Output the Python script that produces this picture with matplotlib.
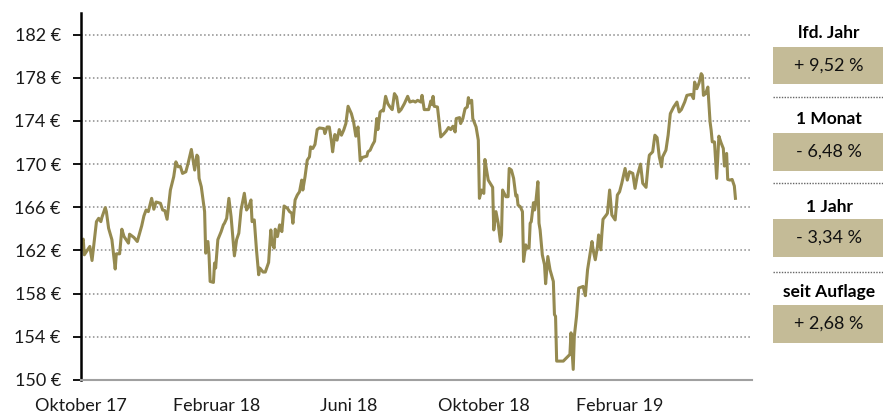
import matplotlib
matplotlib.use("Agg")
import matplotlib.pyplot as plt
import pandas as pd

plt.rcParams['font.family'] = ['Lato', 'DejaVu Sans']

start_date = "2017-10-01"
end_date = "2019-06-01"

# day offsets from start_date and prices (EUR)
day_offsets = [
    0, 2, 3, 6, 8, 10, 14, 16, 18, 19, 22, 23, 25, 28, 31, 32, 35, 37, 39, 43,
    44, 48, 51, 55, 57, 59, 61, 64, 66, 68, 72, 74, 76, 78, 81, 84, 86, 88, 90, 92,
    95, 97, 100, 103, 105, 106, 107, 109, 112, 113, 115, 116, 117, 120, 121, 122, 124, 127, 129, 130,
    132, 134, 136, 139, 141, 143, 145, 148, 150, 152, 154, 155, 157, 159, 161, 162, 165, 167, 170, 172,
    173, 175, 176, 178, 180, 182, 184, 187, 189, 191, 192, 194, 196, 198, 200, 201, 203, 205, 207, 208,
    210, 212, 214, 216, 220, 221, 223, 225, 227, 228, 230, 232, 234, 236, 238, 240, 242, 245, 247, 249,
    251, 253, 255, 259, 260, 262, 264, 266, 268, 269, 271, 273, 274, 276, 278, 280, 282, 284, 286, 288,
    290, 293, 296, 298, 301, 303, 305, 308, 309, 311, 315, 317, 318, 319, 320, 323, 324, 326, 329, 331,
    333, 335, 337, 339, 340, 343, 344, 346, 348, 350, 351, 352, 354, 355, 358, 360, 361, 363, 365, 366,
    367, 369, 373, 374, 376, 378, 380, 381, 382, 385, 387, 388, 390, 392, 394, 395, 396, 398, 400, 401,
    403, 404, 406, 407, 408, 410, 411, 412, 414, 415, 416, 418, 420, 421, 423, 425, 428, 429, 430, 431,
    434, 437, 440, 443, 444, 446, 447, 449, 451, 455, 457, 459, 463, 464, 466, 468, 469, 471, 472, 473,
    476, 477, 479, 481, 484, 486, 488, 490, 491, 493, 495, 497, 500, 502, 504, 507, 509, 512, 514, 515,
    518, 520, 522, 524, 526, 527, 530, 532, 534, 537, 540, 542, 544, 547, 549, 553, 555, 556, 558, 560,
    562, 563, 564, 566, 568, 570, 571, 572, 574, 576, 577, 578, 580, 582, 583, 585, 586, 588, 590, 592,
    593,
]
prices = [
    162.68, 163.05, 161.60, 162.06, 162.37, 161.07, 164.67, 164.98, 164.67, 165.08, 165.97, 165.60, 164.06, 163.00, 160.28, 161.69, 161.69, 163.97, 163.29, 162.68,
    163.51, 163.20, 162.83, 164.28, 165.20, 165.75, 165.60, 166.83, 165.82, 166.49, 166.37, 165.75, 165.69, 164.89, 167.60, 168.83, 170.21, 169.75, 169.80, 169.14,
    169.29, 170.06, 171.36, 169.45, 170.83, 170.67, 168.68, 167.90, 165.60, 161.75, 162.83, 161.60, 159.13, 159.04, 160.83, 160.37, 163.00, 163.75, 164.37, 164.52,
    164.98, 166.83, 165.13, 161.50, 163.00, 163.60, 165.75, 167.30, 165.75, 166.06, 166.68, 164.67, 164.83, 162.06, 159.75, 160.37, 160.00, 160.00, 160.89, 163.90,
    162.68, 162.22, 163.97, 163.29, 164.37, 163.75, 166.12, 165.91, 165.60, 165.45, 164.52, 166.68, 167.14, 167.44, 168.52, 167.60, 168.83, 170.37, 170.67, 171.60,
    171.45, 171.82, 173.20, 173.35, 173.29, 172.83, 173.44, 173.44, 172.06, 171.14, 172.74, 172.22, 173.20, 172.68, 173.14, 173.76, 175.36, 174.68, 173.91, 172.59,
    173.44, 170.30, 170.62, 170.74, 171.14, 171.29, 171.75, 172.12, 174.22, 173.20, 174.83, 174.99, 174.92, 176.28, 175.60, 175.29, 175.05, 176.53, 176.22, 174.83,
    175.05, 175.60, 176.28, 175.75, 175.85, 175.75, 175.91, 175.75, 176.37, 175.05, 175.05, 175.85, 175.54, 176.28, 175.36, 175.29, 174.37, 172.52, 172.83, 173.07,
    173.39, 173.20, 173.51, 172.98, 174.22, 174.31, 173.76, 174.22, 175.14, 175.29, 176.16, 175.66, 175.91, 174.22, 173.44, 172.22, 166.83, 167.60, 167.29, 170.43,
    169.75, 168.52, 167.85, 163.90, 165.60, 164.52, 162.83, 163.44, 167.60, 166.98, 166.98, 169.60, 169.45, 168.68, 167.05, 167.14, 166.21, 166.06, 165.60, 160.98,
    162.52, 162.22, 162.22, 164.52, 164.67, 166.43, 165.75, 166.37, 168.37, 164.52, 163.90, 161.60, 160.67, 158.92, 161.44, 160.21, 159.13, 156.06, 155.90, 151.75,
    151.75, 151.75, 152.06, 152.37, 154.37, 150.98, 154.05, 155.90, 158.52, 158.67, 157.81, 160.21, 162.83, 162.06, 161.14, 162.37, 163.44, 162.06, 163.60, 164.89,
    165.29, 165.45, 167.60, 165.29, 164.83, 167.14, 167.44, 168.22, 168.68, 169.60, 168.52, 169.29, 169.14, 167.75, 168.89, 170.00, 168.22, 167.85, 170.06, 170.83,
    171.14, 172.68, 172.46, 170.67, 169.75, 170.67, 171.29, 172.68, 174.68, 175.29, 175.75, 174.83, 175.05, 175.75, 176.37, 176.46, 176.07, 177.60, 176.99, 177.51,
    178.38, 178.22, 176.37, 176.53, 177.14, 173.91, 173.14, 172.06, 172.06, 168.68, 170.67, 172.59, 171.97, 171.45, 169.82, 170.99, 168.58, 168.52, 168.58, 167.97,
    166.83,
]

y_ticks = [150, 154, 158, 162, 166, 170, 174, 178, 182]
x_tick_dates = ["2017-10-01", "2018-02-01", "2018-06-01", "2018-10-01", "2019-02-01"]
x_tick_labels = ["Oktober 17", "Februar 18", "Juni 18", "Oktober 18", "Februar 19"]

perf_labels = ["lfd. Jahr", "1 Monat", "1 Jahr", "seit Auflage"]
perf_values = ["+ 9,52 %", "- 6,48 %", "- 3,34 %", "+ 2,68 %"]

line_color = "#958A50"
box_color = "#C4BB97"

dates = pd.Timestamp(start_date) + pd.to_timedelta(day_offsets, unit="D")

W, H = 883, 417
fig = plt.figure(figsize=(W / 100, H / 100), dpi=100)
ax = fig.add_axes([81 / W, 1 - 380 / H, (752 - 81) / W, (380 - 13) / H])

ax.plot(dates, prices, color=line_color, linewidth=2.2, solid_joinstyle="round")

ax.set_ylim(150, 184)
ax.set_xlim(pd.Timestamp(start_date), pd.Timestamp(end_date))
ax.set_yticks(y_ticks)
ax.set_yticklabels([f"{v} €" for v in y_ticks])
ax.set_xticks(pd.to_datetime(x_tick_dates))
ax.set_xticklabels(x_tick_labels)

for v in y_ticks[1:]:
    ax.axhline(v, color="#8A8A8A", linewidth=1.1, linestyle=(0, (1, 1.6)), zorder=0)

for s in ["top", "right"]:
    ax.spines[s].set_visible(False)
ax.spines["left"].set_color("black")
ax.spines["left"].set_linewidth(1.8)
ax.spines["bottom"].set_color("#A0A0A0")
ax.spines["bottom"].set_linewidth(1.5)

ax.tick_params(axis="y", length=5.5, width=1.3, color="black", labelsize=13, pad=9, labelcolor="#1a1a1a")
ax.tick_params(axis="x", length=0, labelsize=13, pad=13, labelcolor="#1a1a1a")

# Right performance panel
header_y = [33.3, 119, 207.3, 291.7]
box_top = [46.7, 132.7, 219, 305]
box_bot = [84.3, 170.7, 256.7, 342.7]
sep_y = [96.7, 182.7, 271.7]
x0, x1 = 773, 883
xc = 829
for lab, val, hy, bt, bb in zip(perf_labels, perf_values, header_y, box_top, box_bot):
    fig.text(xc / W, 1 - hy / H, lab, ha="center", va="center", fontsize=12.5,
             fontweight="bold", color="black")
    rect = plt.Rectangle((x0 / W, 1 - bb / H), (x1 - x0) / W, (bb - bt) / H,
                         transform=fig.transFigure, facecolor=box_color, edgecolor="none")
    fig.add_artist(rect)
    fig.text(xc / W, 1 - ((bt + bb) / 2) / H, val, ha="center", va="center",
             fontsize=13, color="#111111")
for sy in sep_y:
    fig.add_artist(plt.Line2D([x0 / W, x1 / W], [1 - sy / H, 1 - sy / H],
                              transform=fig.transFigure, color="#666666",
                              linewidth=1.0, linestyle=(0, (1, 1))))

fig.savefig("out.png", dpi=100)
